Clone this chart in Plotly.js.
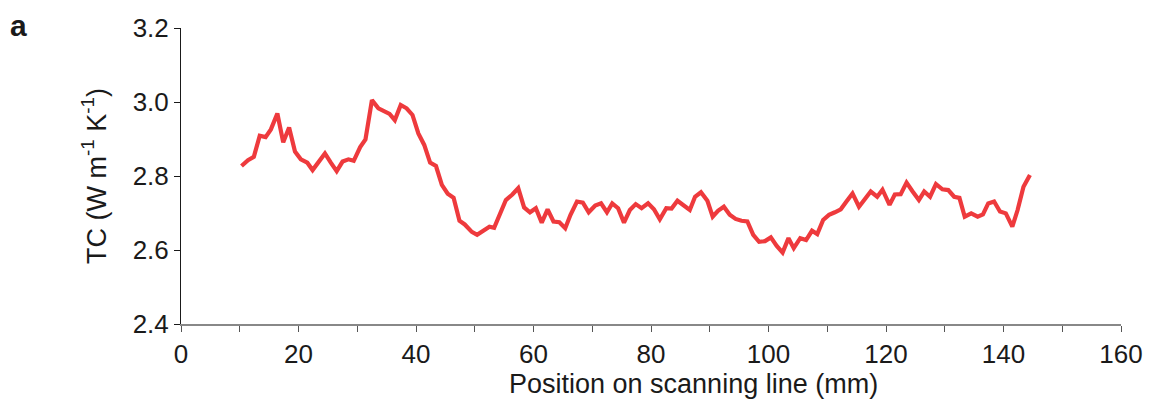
<!DOCTYPE html>
<html>
<head>
<meta charset="utf-8">
<script src="https://cdn.plot.ly/plotly-3.0.1.min.js"></script>
<style>
  html, body { margin: 0; padding: 0; background: #fff; }
  #chart { width: 1153px; height: 406px; }
</style>
</head>
<body>
<div id="chart"></div>
<script>
const positionMm = [
  10.3, 11.4, 12.4, 13.4, 14.4, 15.3, 16.4, 17.4, 18.4, 19.4,
  20.4, 21.5, 22.4, 23.4, 24.5, 25.5, 26.5, 27.5, 28.5, 29.4,
  30.5, 31.4, 32.5, 33.6, 34.6, 35.5, 36.4, 37.4, 38.4, 39.4,
  40.4, 41.4, 42.4, 43.4, 44.4, 45.4, 46.4, 47.4, 48.3, 49.5,
  50.4, 51.5, 52.5, 53.3, 54.3, 55.3, 56.4, 57.4, 58.4, 59.4,
  60.4, 61.4, 62.4, 63.4, 64.4, 65.4, 66.3, 67.4, 68.4, 69.4,
  70.5, 71.5, 72.5, 73.4, 74.4, 75.4, 76.4, 77.4, 78.4, 79.5,
  80.5, 81.5, 82.6, 83.5, 84.5, 85.6, 86.6, 87.5, 88.5, 89.6,
  90.5, 91.4, 92.4, 93.4, 94.4, 95.4, 96.4, 97.4, 98.4, 99.4,
  100.4, 101.4, 102.4, 103.4, 104.3, 105.4, 106.4, 107.4, 108.3, 109.3,
  110.3, 111.3, 112.3, 113.3, 114.3, 115.4, 116.4, 117.4, 118.5, 119.4,
  120.6, 121.5, 122.5, 123.5, 124.5, 125.6, 126.5, 127.5, 128.5, 129.6,
  130.6, 131.6, 132.5, 133.4, 134.5, 135.6, 136.5, 137.4, 138.4, 139.4,
  140.4, 141.5, 142.4, 143.4, 144.5
];
const thermalConductivity = [
  2.827, 2.843, 2.852, 2.909, 2.905, 2.926, 2.969, 2.891, 2.931, 2.866,
  2.845, 2.836, 2.816, 2.839, 2.861, 2.836, 2.813, 2.839, 2.845, 2.841,
  2.878, 2.899, 3.005, 2.983, 2.974, 2.968, 2.951, 2.992, 2.983, 2.965,
  2.915, 2.884, 2.836, 2.827, 2.776, 2.752, 2.741, 2.679, 2.669, 2.649,
  2.641, 2.654, 2.663, 2.660, 2.697, 2.735, 2.750, 2.767, 2.715, 2.702,
  2.713, 2.674, 2.710, 2.677, 2.675, 2.659, 2.695, 2.731, 2.728, 2.702,
  2.720, 2.726, 2.702, 2.726, 2.713, 2.674, 2.708, 2.724, 2.713, 2.726,
  2.710, 2.683, 2.713, 2.712, 2.733, 2.719, 2.708, 2.744, 2.756, 2.733,
  2.690, 2.706, 2.717, 2.695, 2.684, 2.679, 2.677, 2.641, 2.622, 2.624,
  2.634, 2.611, 2.593, 2.632, 2.605, 2.632, 2.627, 2.652, 2.643, 2.681,
  2.695, 2.702, 2.710, 2.732, 2.753, 2.717, 2.737, 2.758, 2.744, 2.763,
  2.722, 2.750, 2.751, 2.782, 2.759, 2.735, 2.758, 2.744, 2.778, 2.764,
  2.762, 2.744, 2.741, 2.690, 2.699, 2.690, 2.696, 2.726, 2.731, 2.704,
  2.699, 2.663, 2.708, 2.771, 2.803
];
const xTickVals = [0, 20, 40, 60, 80, 100, 120, 140, 160];
const yTickVals = [2.4, 2.6, 2.8, 3.0, 3.2];
const yTickText = ['2.4', '2.6', '2.8', '3.0', '3.2'];
const xTitle = 'Position on scanning line (mm)';
const yTitle = 'TC (W m<sup>-1</sup> K<sup>-1</sup>)';
const panelLabel = 'a';

const font = 'Liberation Sans, Arial, Helvetica, sans-serif';
const ink = '#1a1a1a';

const trace = {
  x: positionMm,
  y: thermalConductivity,
  type: 'scatter',
  mode: 'lines',
  line: { color: '#EE3A3D', width: 4.2 },
  hoverinfo: 'x+y'
};

const layout = {
  width: 1153,
  height: 406,
  margin: { l: 181, r: 32, t: 28, b: 82 },
  paper_bgcolor: '#ffffff',
  plot_bgcolor: '#ffffff',
  showlegend: false,
  font: { family: font, color: ink, size: 26 },
  xaxis: {
    range: [0, 160],
    tickmode: 'array',
    tickvals: xTickVals,
    ticks: 'outside',
    ticklen: 6,
    tickcolor: '#555',
    tickwidth: 1,
    showline: true,
    linecolor: '#888',
    linewidth: 1.5,
    showgrid: false,
    zeroline: false,
    tickfont: { family: font, size: 26, color: ink },
    minor: { dtick: 10, tick0: 0, ticks: 'outside', ticklen: 6, tickcolor: '#555', showgrid: false }
  },
  yaxis: {
    range: [2.4, 3.2],
    tickmode: 'array',
    tickvals: yTickVals,
    ticktext: yTickText,
    ticks: 'outside',
    ticklen: 6,
    tickcolor: ink,
    tickwidth: 1,
    showline: true,
    linecolor: ink,
    linewidth: 1,
    showgrid: false,
    zeroline: false,
    tickfont: { family: font, size: 26, color: ink },
    title: { text: yTitle, font: { family: font, size: 27, color: ink }, standoff: 18 }
  },
  annotations: [
    {
      text: '<b>' + panelLabel + '</b>',
      xref: 'paper', yref: 'paper',
      x: -0.184, y: 1.01,
      xanchor: 'left', yanchor: 'middle',
      showarrow: false,
      font: { family: font, size: 30, color: ink }
    },
    {
      text: xTitle,
      xref: 'paper', yref: 'paper',
      x: 0.5447, y: -0.203,
      xanchor: 'center', yanchor: 'middle',
      showarrow: false,
      font: { family: font, size: 27, color: ink }
    }
  ]
};

Plotly.newPlot('chart', [trace], layout, { displayModeBar: false, staticPlot: true });
</script>
</body>
</html>
